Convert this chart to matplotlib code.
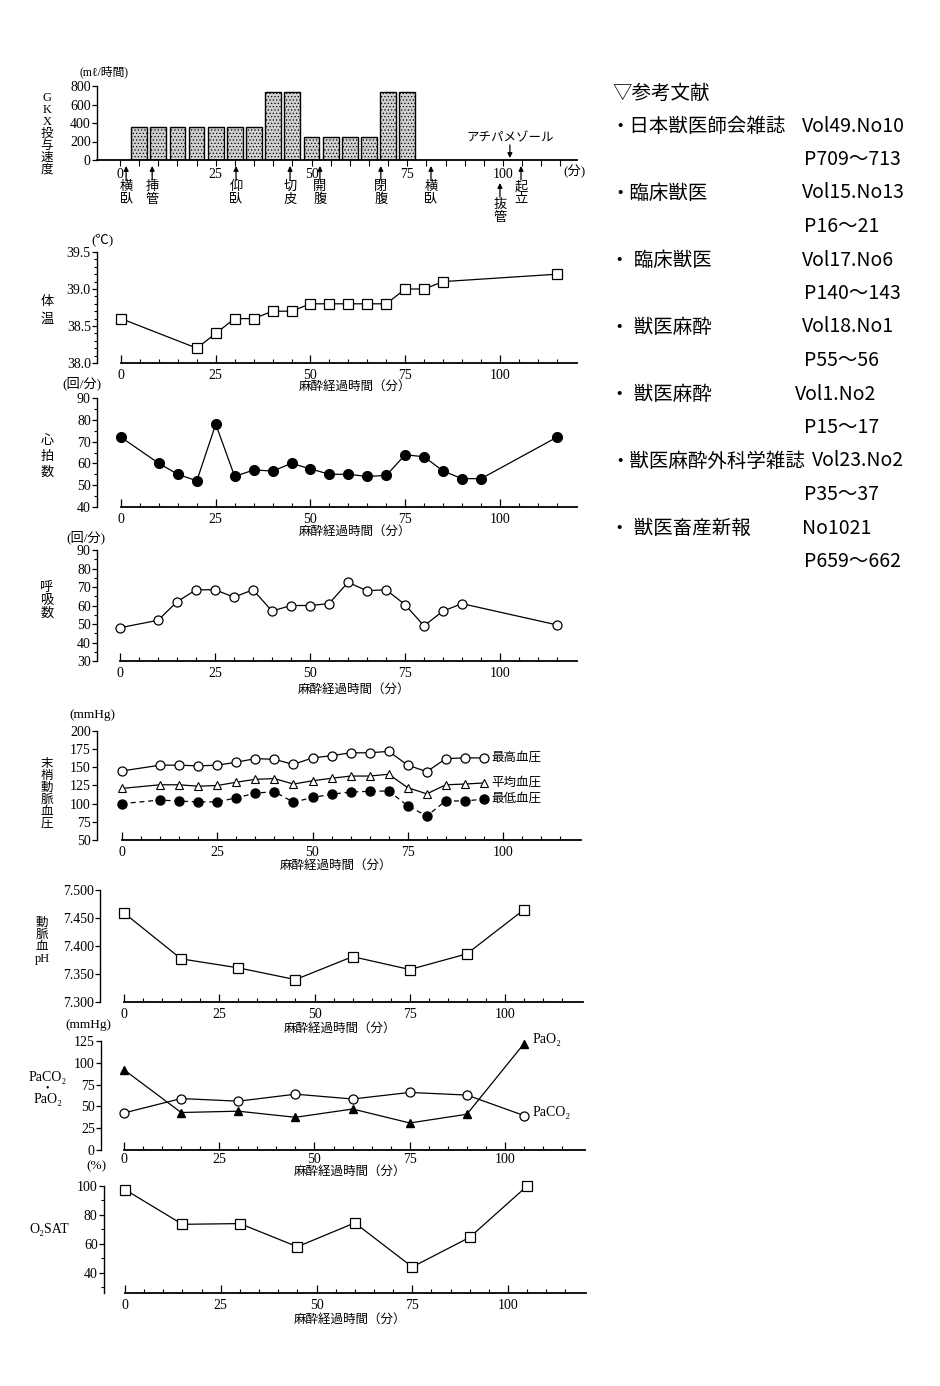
import matplotlib
matplotlib.use("Agg")
import matplotlib.pyplot as plt
from matplotlib.ticker import MultipleLocator, FixedLocator
from matplotlib import transforms

plt.rcParams['font.family'] = ['Liberation Serif', 'Noto Sans CJK JP', 'DejaVu Serif']
plt.rcParams['hatch.color'] = '#6a6a6a'
plt.rcParams['hatch.linewidth'] = 0.5

W, H = 940, 1386

# GKX 投与速度
gkx_t = [5, 10, 15, 20, 25, 30, 35, 40, 45, 50, 55, 60, 65, 70, 75]
gkx_v = [360, 360, 360, 360, 360, 360, 360, 730, 730, 250, 250, 250, 250, 730, 740]
event_lbl = ['横臥', '挿管', '仰臥', '切皮', '開腹', '閉腹', '横臥', '抜管', '起立']
event_t = [1.6, 8.4, 30.3, 44.4, 52.2, 68.1, 81.2, 99.2, 104.7]
atipa_t = 101.8

# 体温
temp_t = [0, 20, 25, 30, 35, 40, 45, 50, 55, 60, 65, 70, 75, 80, 85, 115]
temp_v = [38.6, 38.2, 38.4, 38.6, 38.6, 38.7, 38.7, 38.8, 38.8, 38.8, 38.8, 38.8, 39.0, 39.0, 39.1, 39.2]

# 心拍数
hr_t = [0, 10, 15, 20, 25, 30, 35, 40, 45, 50, 55, 60, 65, 70, 75, 80, 85, 90, 95, 115]
hr_v = [72, 60, 55, 52, 78, 54, 57, 56.5, 60, 57.5, 55, 55, 54, 54.5, 64, 63, 56.5, 53, 53, 72]

# 呼吸数
rr_t = [0, 10, 15, 20, 25, 30, 35, 40, 45, 50, 55, 60, 65, 70, 75, 80, 85, 90, 115]
rr_v = [48, 52, 62, 68.5, 68.5, 64.5, 68.5, 57, 60, 60, 61, 72.5, 68, 68.5, 60.5, 49, 57, 61, 49.5]

# 末梢動脈血圧
bp_t = [0, 10, 15, 20, 25, 30, 35, 40, 45, 50, 55, 60, 65, 70, 75, 80, 85, 90, 95]
sbp = [145, 153, 153, 152, 153, 157, 162, 161, 154, 163, 166, 170, 170, 172, 153, 144, 162, 163, 163]
mbp = [121, 126, 126, 124, 125, 129.5, 133.5, 134.5, 127, 131.5, 135, 138, 138, 140.5, 122, 113.5, 126, 127, 128.5]
dbp = [100, 105, 103.5, 102.5, 102.5, 108, 114.5, 116.5, 102, 108.5, 113, 116, 117, 117.5, 97, 83, 104, 103.5, 106.5]

# 血液ガス
gas_t = [0, 15, 30, 45, 60, 75, 90, 105]
ph_v = [7.459, 7.377, 7.361, 7.340, 7.381, 7.358, 7.386, 7.465]
pao2 = [92, 43, 44.5, 37.5, 47, 31, 41, 122]
paco2 = [42.5, 59, 56, 64, 58.5, 66, 63, 39.5]
o2sat = [97.5, 73.5, 74, 58, 74.5, 44, 64.5, 100]

# 参考文献
ref_names = ['・日本獣医師会雑誌', '・臨床獣医', '・ 臨床獣医', '・ 獣医麻酔', '・ 獣医麻酔', '・獣医麻酔外科学雑誌', '・ 獣医畜産新報']
ref_vols = ['Vol49.No10', 'Vol15.No13', 'Vol17.No6', 'Vol18.No1', 'Vol1.No2', 'Vol23.No2', 'No1021']
ref_pages = ['P709～713', 'P16～21', 'P140～143', 'P55～56', 'P15～17', 'P35～37', 'P659～662']

fig = plt.figure(figsize=(9.4, 13.86), dpi=100)
fig.patch.set_facecolor('white')


def ftxt(x, y, s, **kw):
    kw.setdefault('fontsize', 9)
    kw.setdefault('ha', 'center')
    kw.setdefault('va', 'center')
    return fig.text(x / W, 1 - y / H, s, **kw)


def panel(yx, ytop, ybot, x0, x100, xr, ylo, yhi, inner=True, xpad=4):
    ppu = (x100 - x0) / 100.0
    xlo = (yx - x0) / ppu
    xhi = (xr - x0) / ppu
    ax = fig.add_axes([yx / W, 1 - ybot / H, (xr - yx) / W, (ybot - ytop) / H])
    ax.set_xlim(xlo, xhi)
    ax.set_ylim(ylo, yhi)
    ax.patch.set_alpha(0)
    for s in ['top', 'right']:
        ax.spines[s].set_visible(False)
    ax.spines['left'].set_linewidth(1.0)
    ax.spines['bottom'].set_linewidth(1.3)
    ax.xaxis.set_major_locator(FixedLocator([0, 25, 50, 75, 100]))
    ax.xaxis.set_minor_locator(FixedLocator([t for t in range(0, 120, 5) if t % 25]))
    if inner:
        ax.spines['bottom'].set_bounds(0, xhi)
        ax.tick_params(axis='x', which='major', direction='in', length=6, width=0.9, pad=xpad, labelsize=10)
        ax.tick_params(axis='x', which='minor', direction='in', length=3, width=0.8)
    else:
        ax.tick_params(axis='x', which='both', direction='out', length=4, width=0.8, pad=2, labelsize=10)
    ax.tick_params(axis='y', which='major', direction='out', length=3.5, width=0.9, pad=1, labelsize=10)
    ax.tick_params(axis='y', which='minor', direction='out', length=2, width=0.8)
    return ax


lw = 0.9
sq = dict(marker='s', ms=7, mfc='white', mec='black', mew=0.9, color='black', lw=lw, clip_on=False)
fc = dict(marker='o', ms=7, mfc='black', mec='black', color='black', lw=lw, clip_on=False)
oc = dict(marker='o', ms=6.5, mfc='white', mec='black', mew=0.9, color='black', lw=lw, clip_on=False)

# ---- GKX 投与速度 ----
ax1 = panel(97, 86, 160, 120, 503, 577, 0, 800, inner=False)
ax1.bar(gkx_t, gkx_v, width=4.1, facecolor='#cfcfcf', edgecolor='black', lw=1.0, hatch='.....')
ax1.set_yticks([0, 200, 400, 600, 800])
ftxt(104, 72, '(mℓ/時間)', fontsize=8.5)
ftxt(47, 134, '\n'.join('GKX投与速度'), fontsize=9, linespacing=1.0)
ftxt(574, 172, '(分)', fontsize=9.5)
tr1 = transforms.blended_transform_factory(ax1.transData, fig.transFigure)
for lbl, t in zip(event_lbl, event_t):
    if lbl == '抜管':
        tip, tail, ty = 183, 197, 199
    else:
        tip, tail, ty = 166, 180, 181
    ax1.annotate('', xy=(t, 1 - tip / H), xycoords=tr1, xytext=(t, 1 - tail / H), textcoords=tr1,
                 arrowprops=dict(arrowstyle='-|>', lw=0.9, color='black', mutation_scale=7, shrinkA=0, shrinkB=0))
    ax1.text(t, 1 - ty / H, '\n'.join(lbl), transform=tr1, ha='center', va='top', fontsize=9.5, linespacing=1.05)
ax1.text(atipa_t, 1 - 138 / H, 'アチパメゾール', transform=tr1, ha='center', va='center', fontsize=9)
ax1.annotate('', xy=(atipa_t, 1 - 158 / H), xycoords=tr1, xytext=(atipa_t, 1 - 145 / H), textcoords=tr1,
             arrowprops=dict(arrowstyle='-|>', lw=0.9, color='black', mutation_scale=7, shrinkA=0, shrinkB=0))

# ---- 体温 ----
ax2 = panel(97, 252, 363, 121, 500, 577, 38.0, 39.5)
ax2.plot(temp_t, temp_v, **sq)
ax2.yaxis.set_major_locator(FixedLocator([38.0, 38.5, 39.0, 39.5]))
ax2.yaxis.set_major_formatter(plt.FormatStrFormatter('%.1f'))
ax2.yaxis.set_minor_locator(MultipleLocator(0.1))
ftxt(103, 240, '(℃)', fontsize=9.5)
ftxt(47, 311, '\n'.join('体温'), fontsize=9.5, linespacing=1.6)
ftxt(355, 387, '麻酔経過時間（分）')

# ---- 心拍数 ----
ax3 = panel(97, 398, 507, 121, 500, 577, 40, 90)
ax3.plot(hr_t, hr_v, **fc)
ax3.yaxis.set_major_locator(MultipleLocator(10))
ax3.yaxis.set_minor_locator(MultipleLocator(5))
ftxt(82, 383, '(回/分)', fontsize=9.5)
ftxt(47, 457, '\n'.join('心拍数'), fontsize=9.5, linespacing=1.4)
ftxt(355, 532, '麻酔経過時間（分）')

# ---- 呼吸数 ----
ax4 = panel(97, 550, 661, 120, 500, 577, 30, 90)
ax4.plot(rr_t, rr_v, **oc)
ax4.yaxis.set_major_locator(MultipleLocator(10))
ax4.yaxis.set_minor_locator(MultipleLocator(5))
ftxt(86, 537, '(回/分)', fontsize=9.5)
ftxt(47, 601, '\n'.join('呼吸数'), fontsize=9.5, linespacing=1.1)
ftxt(354, 690, '麻酔経過時間（分）')

# ---- 末梢動脈血圧 ----
ax5 = panel(97, 731, 840, 122, 503, 581, 50, 200)
ax5.plot(bp_t, sbp, **oc)
ax5.plot(bp_t, mbp, marker='^', ms=5.5, mfc='white', mec='black', mew=0.8, color='black', lw=lw)
ax5.plot(bp_t, dbp, marker='o', ms=6.5, mfc='black', mec='black', color='black', lw=lw, ls=(0, (4, 3)))
ax5.yaxis.set_major_locator(MultipleLocator(25))
for vals, name in [(sbp, '最高血圧'), (mbp, '平均血圧'), (dbp, '最低血圧')]:
    ax5.annotate(name, xy=(bp_t[-1], vals[-1]), xytext=(5, 0), textcoords='offset points',
                 ha='left', va='center', fontsize=9)
ftxt(92, 715, '(mmHg)', fontsize=9.5)
ftxt(47, 794, '\n'.join('末梢動脈血圧'), fontsize=9, linespacing=0.98)
ftxt(336, 866, '麻酔経過時間（分）')

# ---- 動脈血pH ----
ax6 = panel(100, 890, 1002, 124, 505, 583, 7.3, 7.5)
ax6.plot(gas_t, ph_v, **sq)
ax6.yaxis.set_major_locator(MultipleLocator(0.05))
ax6.yaxis.set_major_formatter(plt.FormatStrFormatter('%.3f'))
ftxt(42, 941, '動\n脈\n血\npH', fontsize=9, linespacing=1.0)
ftxt(340, 1029, '麻酔経過時間（分）')

# ---- PaCO2・PaO2 ----
ax7 = panel(101, 1041, 1150, 124, 505, 585, 0, 125, xpad=2)
ax7.plot(gas_t, pao2, marker='^', ms=6, mfc='black', mec='black', color='black', lw=lw, clip_on=False)
ax7.plot(gas_t, paco2, **oc)
ax7.yaxis.set_major_locator(MultipleLocator(25))
ax7.annotate('PaO₂', xy=(gas_t[-1], pao2[-1]), xytext=(6, 3), textcoords='offset points',
             ha='left', va='center', fontsize=10)
ax7.annotate('PaCO₂', xy=(gas_t[-1], paco2[-1]), xytext=(6, 2), textcoords='offset points',
             ha='left', va='center', fontsize=10)
ftxt(88, 1025, '(mmHg)', fontsize=9.5)
ftxt(48, 1077, 'PaCO₂', fontsize=10)
ftxt(47, 1088, '•', fontsize=7)
ftxt(48, 1100, 'PaO₂', fontsize=10)
ftxt(350, 1172, '麻酔経過時間（分）')

# ---- O2SAT ----
ax8 = panel(104, 1186, 1293, 125, 508, 586, 26, 100)
ax8.plot(gas_t, o2sat, **sq)
ax8.yaxis.set_major_locator(FixedLocator([40, 60, 80, 100]))
ax8.yaxis.set_minor_locator(FixedLocator([30, 50, 70, 90]))
ftxt(96, 1166, '(%)', fontsize=9.5)
ftxt(49, 1230, 'O₂SAT', fontsize=10)
ftxt(350, 1320, '麻酔経過時間（分）')

# ---- 参考文献 ----
rf = dict(fontsize=14, ha='left', family=['Noto Sans CJK JP', 'DejaVu Sans'])
ftxt(612, 93, '▽参考文献', **rf)
y = 126
for nm, vol, pg in zip(ref_names, ref_vols, ref_pages):
    ftxt(610, y, nm, **rf)
    vx = 802
    if vol == 'Vol1.No2':
        vx = 795
    elif vol == 'Vol23.No2':
        vx = 812
    ftxt(vx, y, vol, **rf)
    ftxt(804, y + 33.5, pg, **rf)
    y += 67

fig.savefig('out.png', dpi=100, facecolor='white')
